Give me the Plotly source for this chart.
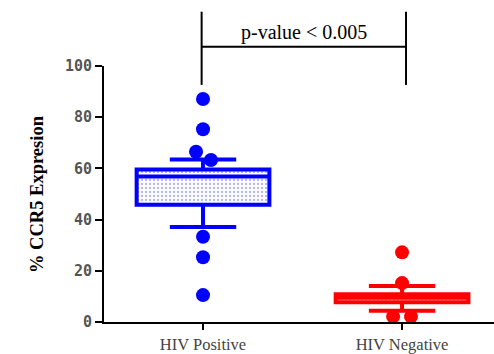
import plotly.graph_objects as go

# Group labels and positions on the numeric x axis
groups = ["HIV Positive", "HIV Negative"]
group_pos = [1, 2]
colors = ["#0000ff", "#ff0000"]

# Box summary statistics (% CCR5 expression)
q1 = [45.8, 7.7]
median = [56.8, 9.5]
q3 = [59.6, 10.8]
lower_fence = [37.1, 4.4]
upper_fence = [63.5, 14.1]

# Individual values shown outside / on the whiskers
pos_points = [87.1, 75.3, 66.5, 63.3, 33.3, 25.3, 10.5]
neg_points = [27.2, 15.2, 2.1, 2.1]
# small horizontal offsets so overlapping dots stay visible
pos_jitter = [0, 0, -0.035, 0.04, 0, 0, 0]
neg_jitter = [0, 0, -0.045, 0.045]

y_ticks = [0, 20, 40, 60, 80, 100]
p_label = "p-value < 0.005"

x_range = [0.5025, 2.462]
box_width = 0.667

fig = go.Figure()

# dotted fill inside each box
for i in range(2):
    fig.add_trace(go.Bar(
        x=[group_pos[i]], y=[q3[i] - q1[i]], base=[q1[i]], width=box_width,
        marker=dict(color="white", line=dict(width=0),
                    pattern=dict(shape=".", fgcolor=colors[i], bgcolor="white",
                                 fgopacity=0.3, size=4, solidity=0.25)),
        showlegend=False, hoverinfo="skip"))

# box outlines, medians and whiskers
for i in range(2):
    fig.add_trace(go.Box(
        x=[group_pos[i]], q1=[q1[i]], median=[median[i]], q3=[q3[i]],
        lowerfence=[lower_fence[i]], upperfence=[upper_fence[i]],
        width=box_width, whiskerwidth=0.5,
        line=dict(color=colors[i], width=4), fillcolor="rgba(0,0,0,0)",
        boxpoints=False, showlegend=False, hoverinfo="skip"))

fig.add_trace(go.Scatter(
    x=[group_pos[0] + j for j in pos_jitter], y=pos_points, mode="markers",
    marker=dict(color=colors[0], size=14), showlegend=False, hoverinfo="skip"))
fig.add_trace(go.Scatter(
    x=[group_pos[1] + j for j in neg_jitter], y=neg_points, mode="markers",
    marker=dict(color=colors[1], size=14), showlegend=False, hoverinfo="skip"))

# significance bracket between the two groups
def to_paper(xv):
    return (xv - x_range[0]) / (x_range[1] - x_range[0])

bx0 = to_paper(group_pos[0] - 0.007)
bx1 = to_paper(group_pos[1] + 0.02)
y_top, y_mid, y_bot = 1.212, 1.0754, 0.926
line_style = dict(color="black", width=2)
for xs in (bx0, bx1):
    fig.add_shape(type="line", xref="paper", yref="paper",
                  x0=xs, x1=xs, y0=y_bot, y1=y_top, line=line_style)
fig.add_shape(type="line", xref="paper", yref="paper",
              x0=bx0, x1=bx1, y0=y_mid, y1=y_mid, line=line_style)
fig.add_annotation(text=p_label, xref="paper", yref="paper",
                   x=(bx0 + bx1) / 2, y=y_mid, yanchor="bottom", yshift=1,
                   showarrow=False,
                   font=dict(family="Liberation Serif", size=20, color="black"))

# y-axis title
fig.add_annotation(text="<b>% CCR5 Expresion</b>", xref="paper", yref="paper",
                   x=0, y=0.5, xshift=-79, textangle=-90, showarrow=False,
                   font=dict(family="Liberation Serif", size=18.5, color="black"))

fig.update_layout(
    width=494, height=354,
    margin=dict(l=104, r=0, t=66, b=32),
    paper_bgcolor="white", plot_bgcolor="white",
    boxmode="overlay", barmode="overlay",
    xaxis=dict(range=x_range, tickmode="array", tickvals=group_pos,
               ticktext=groups, showline=True, linecolor="black", linewidth=2,
               ticks="outside", ticklen=6, tickwidth=2, tickcolor="black",
               showgrid=False, zeroline=False, automargin=False,
               tickfont=dict(family="Liberation Serif", size=16.5, color="#444")),
    yaxis=dict(range=[0, 100], tickmode="array", tickvals=y_ticks,
               ticktext=[f"<b>{v}</b>" for v in y_ticks],
               showline=True, linecolor="black", linewidth=2,
               ticks="outside", ticklen=7, tickwidth=2, tickcolor="black",
               showgrid=False, zeroline=False, automargin=False,
               tickfont=dict(family="DejaVu Sans Mono", size=15, color="#555")),
)

fig.write_html("out.html")
